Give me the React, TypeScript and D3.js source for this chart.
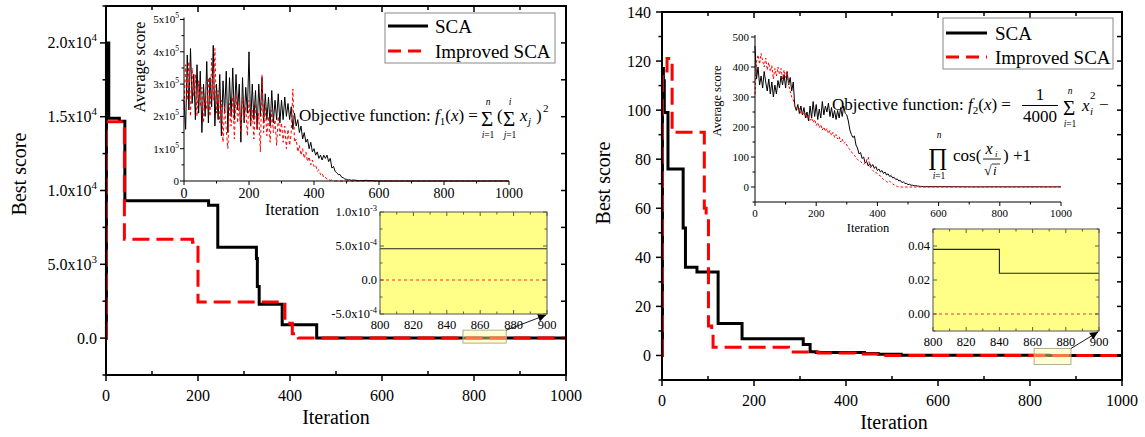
import React from "react";
import * as d3 from "d3";

type P = [number, number];
type Tick = { v: number; b: string; e: string };

// ---------------- data: left panel, f1 ----------------
const f1SCA: P[] = [[0, 0], [1, 20000], [6, 14900], [29, 14700], [41, 9300], [223, 9000], [243, 6150], [327, 5400], [329, 3500], [333, 2300], [383, 900], [458, 0.00046], [1000, 0.00046]];
const f1Improved: P[] = [[0, 0], [1, 14650], [40, 6700], [188, 6500], [200, 2450], [389, 1000], [405, 300], [418, 0], [1000, 0]];
const f1ZoomSCA: P[] = [[800, 0.00046], [900, 0.00046]];
const f1ZoomImproved: P[] = [[800, 0], [900, 0]];
const f1ZoomWindow = { x: [776, 870], y: [-340, 540] };

const AVG_STEP = 5;
// average score, unit 1e5, one value every AVG_STEP iterations from 0
const f1AvgSCA = [
  2.5, 1.6, 3.9, 2.2, 4.1, 2.4, 3.3, 1.9, 3.6, 2.1,
  3.4, 1.5, 3.0, 2.0, 3.7, 1.8, 3.2, 2.3, 4.2, 1.7,
  3.0, 1.9, 3.3, 1.4, 3.1, 2.1, 3.4, 1.5, 3.2, 2.0,
  3.5, 1.9, 3.3, 2.2, 3.0, 1.2, 3.2, 1.8, 2.9, 2.1,
  4.0, 1.7, 3.0, 1.9, 2.8, 1.6, 3.0, 2.0, 3.2, 1.8,
  2.7, 1.9, 2.6, 1.7, 2.8, 1.8, 2.5, 1.9, 2.7, 1.8,
  2.5, 1.9, 2.6, 2.0, 2.4, 1.9, 2.3, 1.6, 2.1, 1.7,
  1.9, 1.5, 1.7, 1.3, 1.5, 1.2, 1.3, 1.0, 1.2, 0.9,
  1.0, 0.8, 0.9, 0.7, 0.8, 0.65, 0.8, 0.7, 0.8, 0.6,
  0.7, 0.4, 0.45, 0.3, 0.25, 0.2, 0.2, 0.12, 0.1, 0.06,
  0.05, 0.03, 0.04, 0.02, 0.03,
];
const f1AvgSCATail: P[] = [[540, 0.01], [560, 0.02], [600, 0], [1000, 0]];
const f1AvgImproved = [
  2.2, 3.6, 2.5, 3.7, 2.0, 3.5, 2.6, 3.3, 2.0, 3.1,
  2.3, 2.9, 1.8, 2.6, 2.2, 3.2, 2.0, 3.8, 2.5, 4.1,
  2.1, 2.8, 1.8, 2.5, 1.2, 2.3, 1.6, 1.0, 2.4, 1.7,
  2.6, 1.3, 2.7, 1.8, 2.4, 1.5, 2.6, 1.9, 2.3, 1.4,
  2.5, 1.7, 2.2, 1.3, 2.4, 1.6, 2.1, 0.9, 3.3, 1.5,
  2.3, 1.4, 2.0, 1.2, 2.2, 1.5, 1.9, 1.1, 2.0, 1.4,
  1.8, 1.2, 1.7, 1.0, 1.6, 1.1, 1.5, 2.85, 1.2, 1.3,
  0.9, 1.1, 0.8, 1.0, 0.7, 0.9, 0.6, 0.75, 0.5, 0.65,
  0.45, 0.5, 0.3, 0.35, 0.2, 0.25, 0.1, 0.12, 0.05, 0.06,
  0.02, 0.03, 0.01, 0,
];
const f1AvgImprovedTail: P[] = [[1000, 0]];

const f1YTicks: Tick[] = [
  { v: 0, b: "0.0", e: "" }, { v: 5000, b: "5.0x10", e: "3" }, { v: 10000, b: "1.0x10", e: "4" },
  { v: 15000, b: "1.5x10", e: "4" }, { v: 20000, b: "2.0x10", e: "4" },
];
const f1AvgYTicks: Tick[] = [
  { v: 0, b: "0", e: "" }, { v: 1, b: "1x10", e: "5" }, { v: 2, b: "2x10", e: "5" },
  { v: 3, b: "3x10", e: "5" }, { v: 4, b: "4x10", e: "5" }, { v: 5, b: "5x10", e: "5" },
];
const f1ZoomYTicks: Tick[] = [
  { v: -0.0005, b: "-5.0x10", e: "-4" }, { v: 0, b: "0.0", e: "" },
  { v: 0.0005, b: "5.0x10", e: "-4" }, { v: 0.001, b: "1.0x10", e: "-3" },
];

// ---------------- data: right panel, f2 ----------------
const f2SCA: P[] = [[0, 0], [1, 100], [2, 117], [3, 104], [4, 112], [5, 99], [13, 76], [46, 52], [51, 36], [76, 34], [122, 13], [174, 6.8], [307, 4.5], [322, 1.5], [335, 1.2], [440, 0.8], [470, 0.5], [520, 0.038], [841, 0.024], [1000, 0.024]];
const f2Improved: P[] = [[0, 0], [1, 116], [11, 121], [22, 91], [92, 60], [96, 56], [101, 12], [108, 10], [111, 3.4], [275, 1.4], [340, 1.0], [420, 0.6], [480, 0], [1000, 0]];
const f2ZoomSCA: P[] = [[800, 0.038], [840, 0.024], [900, 0.024]];
const f2ZoomImproved: P[] = [[800, 0], [900, 0]];
const f2ZoomWindow = { x: [809, 889], y: [-3.7, 2.85] };

const f2AvgSCA = [
  470, 360, 400, 340, 370, 330, 385, 350, 320, 360,
  310, 350, 300, 340, 310, 355, 330, 370, 340, 375,
  330, 385, 340, 365, 320, 350, 270, 255, 275, 245,
  270, 240, 265, 230, 250, 220, 270, 230, 285, 235,
  275, 225, 260, 230, 285, 240, 270, 250, 280, 235,
  265, 230, 255, 225, 255, 230, 265, 235, 270, 245,
  240, 220, 190, 175, 165, 170, 140, 130, 110, 115,
  95, 100, 80, 85, 70, 78, 68, 75, 62, 68,
  55, 60, 50, 55, 45, 50, 40, 44, 35, 38,
  30, 32, 25, 27, 20, 22, 15, 17, 12, 12,
  8, 9, 6, 6, 4, 5, 3, 3, 2, 2, 1,
];
const f2AvgSCATail: P[] = [[600, 1], [700, 0.5], [1000, 0.5]];
const f2AvgImproved = [
  310, 420, 440, 410, 445, 420, 400, 430, 390, 415,
  385, 405, 360, 395, 370, 400, 375, 395, 360, 390,
  365, 385, 340, 320, 300, 290, 270, 265, 255, 262,
  245, 250, 238, 245, 230, 238, 222, 230, 215, 225,
  205, 215, 198, 208, 190, 200, 185, 195, 178, 188,
  172, 182, 165, 175, 160, 168, 150, 160, 145, 150,
  140, 130, 125, 118, 110, 105, 98, 92, 88, 85,
  80, 75, 80, 90, 100, 70, 60, 55, 50, 48,
  45, 40, 37, 30, 25, 22, 18, 15, 20, 14,
  10, 7, 4, 2, 0,
];
const f2AvgImprovedTail: P[] = [[1000, 0]];

const f2YTicks: Tick[] = [0, 20, 40, 60, 80, 100, 120, 140].map((v) => ({ v, b: String(v), e: "" }));
const f2AvgYTicks: Tick[] = [0, 100, 200, 300, 400, 500].map((v) => ({ v, b: String(v), e: "" }));
const f2ZoomYTicks: Tick[] = [
  { v: 0, b: "0.00", e: "" }, { v: 0.02, b: "0.02", e: "" }, { v: 0.04, b: "0.04", e: "" },
];

const iterTicks = [0, 200, 400, 600, 800, 1000];
const zoomXTicks = [800, 820, 840, 860, 880, 900];
const legendLabels = ["SCA", "Improved SCA"];

// ---------------- drawing ----------------
const FONT = "Liberation Serif, Times New Roman, serif";
const RED = "#ff0000";

type Sc = d3.ScaleLinear<number, number>;

function stepPath(xs: Sc, ys: Sc, pts: P[]) {
  return d3.line<P>().x((d) => xs(d[0])).y((d) => ys(d[1])).curve(d3.curveStepAfter)(pts) || "";
}
function linPath(xs: Sc, ys: Sc, pts: P[]) {
  return d3.line<P>().x((d) => xs(d[0])).y((d) => ys(d[1]))(pts) || "";
}
function avgPoints(vals: number[], tail: P[]): P[] {
  return vals.map((v, i) => [i * AVG_STEP, v] as P).concat(tail);
}

function Label({ x, y, t, size, anchor = "end", supSize, supDy }: any) {
  return (
    <text x={x} y={y} textAnchor={anchor} fontSize={size}>
      {t.b}
      {t.e ? <tspan dy={supDy} fontSize={supSize}>{t.e}</tspan> : null}
    </text>
  );
}

function MainFrame({ xs, ys, xMinorStep, yTicks, yMinorStep, yLabelX, xLabelY }: any) {
  const [x0, x1] = xs.range();
  const [yb, yt] = ys.range();
  const [d0, d1] = ys.domain();
  const xAll = d3.range(0, 1001, xMinorStep);
  const yAll = d3.range(Math.ceil(d0 / yMinorStep) * yMinorStep, d1 + 1e-9, yMinorStep);
  const majorY = new Set(yTicks.map((t: Tick) => t.v));
  return (
    <g>
      <g stroke="#000" strokeWidth={1.5}>
        {xAll.map((v) => {
          const major = v % 200 === 0;
          return (
            <g key={v}>
              <line x1={xs(v)} x2={xs(v)} y1={yb} y2={major ? yb + 6 : yb - 4} />
              <line x1={xs(v)} x2={xs(v)} y1={yt} y2={yt + (major ? 6 : 4)} />
            </g>
          );
        })}
        {yAll.map((v) => {
          const major = majorY.has(v);
          return (
            <g key={v}>
              <line x1={x0} x2={x0 - (major ? 6 : 3.5)} y1={ys(v)} y2={ys(v)} />
              <line x1={x1} x2={x1 - 5} y1={ys(v)} y2={ys(v)} />
            </g>
          );
        })}
      </g>
      <rect x={x0} y={yt} width={x1 - x0} height={yb - yt} fill="none" stroke="#000" strokeWidth={2} />
      {iterTicks.map((v) => (
        <text key={v} x={xs(v)} y={xLabelY} textAnchor="middle" fontSize={16}>{v}</text>
      ))}
      {yTicks.map((t: Tick) => (
        <Label key={t.v} x={yLabelX} y={ys(t.v) + 5.5} t={t} size={16} supSize={11} supDy={-7} />
      ))}
    </g>
  );
}

function AvgInset({ xs, ys, yTicks, yMinorStep, blackPts, redPts, redDash, yLabelSize, yLabelSup, xLabelSize, xLabelY, yLabelX }: any) {
  const [x0, x1] = xs.range();
  const [yb] = ys.range();
  const [d0] = ys.domain();
  const top = ys(yTicks[yTicks.length - 1].v) - 2;
  const yAll = d3.range(Math.ceil(d0 / yMinorStep) * yMinorStep, yTicks[yTicks.length - 1].v + 1e-9, yMinorStep);
  const majorY = new Set(yTicks.map((t: Tick) => t.v));
  return (
    <g>
      <path d={linPath(xs, ys, blackPts)} fill="none" stroke="#000" strokeWidth={1} />
      <path d={linPath(xs, ys, redPts)} fill="none" stroke={RED} strokeWidth={1} strokeDasharray={redDash} />
      <g stroke="#000" strokeWidth={1}>
        <line x1={x0} x2={x0} y1={yb} y2={top} />
        <line x1={x0} x2={x1} y1={yb} y2={yb} />
        {d3.range(0, 1001, 100).map((v) => (
          <line key={v} x1={xs(v)} x2={xs(v)} y1={yb} y2={yb + (v % 200 === 0 ? 4 : 2.5)} />
        ))}
        {yAll.map((v) => (
          <line key={v} x1={x0} x2={x0 - (majorY.has(v) ? 4 : 2.5)} y1={ys(v)} y2={ys(v)} />
        ))}
      </g>
      {iterTicks.map((v) => (
        <text key={v} x={xs(v)} y={xLabelY} textAnchor="middle" fontSize={xLabelSize}>{v}</text>
      ))}
      {yTicks.map((t: Tick) => (
        <Label key={t.v} x={yLabelX} y={ys(t.v) + yLabelSize * 0.35} t={t} size={yLabelSize} supSize={yLabelSup} supDy={-5} />
      ))}
    </g>
  );
}

function ZoomInset({ xs, ys, yTicks, yMinor, blackPts, redPts, yLabelX, xLabelY, win, mxs, mys }: any) {
  const [x0, x1] = xs.range();
  const [yb, yt] = ys.range();
  const majorY = new Set(yTicks.map((t: Tick) => t.v));
  const rx0 = mxs(win.x[0]), rx1 = mxs(win.x[1]);
  const ry0 = mys(win.y[1]), ry1 = mys(win.y[0]);
  return (
    <g>
      <rect x={rx0} y={ry0} width={rx1 - rx0} height={ry1 - ry0} fill="#ffff99" fillOpacity={0.45} stroke="#b0b090" strokeWidth={1} />
      <line x1={rx1} y1={ry0} x2={x1 - 1} y2={yb + 1} stroke="#000" strokeWidth={0.9} markerEnd="url(#ah)" />
      <rect x={x0} y={yt} width={x1 - x0} height={yb - yt} fill="#ffff88" />
      <path d={stepPath(xs, ys, blackPts)} fill="none" stroke="#222" strokeWidth={1.1} />
      <path d={stepPath(xs, ys, redPts)} fill="none" stroke="#ff3030" strokeWidth={1.1} strokeDasharray="3 3" />
      <g stroke="#333" strokeWidth={0.8}>
        {d3.range(800, 901, 10).map((v) => (
          <g key={v}>
            <line x1={xs(v)} x2={xs(v)} y1={yb} y2={yb - (v % 20 === 0 ? 4 : 2.5)} />
            <line x1={xs(v)} x2={xs(v)} y1={yt} y2={yt + (v % 20 === 0 ? 4 : 2.5)} />
          </g>
        ))}
        {yMinor.map((v: number) => (
          <g key={v}>
            <line x1={x0} x2={x0 + (majorY.has(v) ? 4 : 2.5)} y1={ys(v)} y2={ys(v)} />
            <line x1={x1} x2={x1 - (majorY.has(v) ? 4 : 2.5)} y1={ys(v)} y2={ys(v)} />
          </g>
        ))}
      </g>
      <rect x={x0} y={yt} width={x1 - x0} height={yb - yt} fill="none" stroke="#555" strokeWidth={1} />
      {zoomXTicks.map((v) => (
        <text key={v} x={xs(v)} y={xLabelY} textAnchor="middle" fontSize={12.5}>{v}</text>
      ))}
      {yTicks.map((t: Tick) => (
        <Label key={t.v} x={yLabelX} y={ys(t.v) + 4.3} t={t} size={12.5} supSize={8.5} supDy={-5} />
      ))}
    </g>
  );
}

function Legend({ x, y, w, h, lx0, lx1, tx, rows }: any) {
  return (
    <g>
      <rect x={x} y={y} width={w} height={h} fill="#fff" stroke="#888" strokeWidth={1} />
      <line x1={lx0} x2={lx1} y1={rows[0]} y2={rows[0]} stroke="#000" strokeWidth={3} />
      <line x1={lx0} x2={lx1} y1={rows[1]} y2={rows[1]} stroke={RED} strokeWidth={3} strokeDasharray="13 7" />
      <text x={tx} y={rows[0] + 7} fontSize={19}>{legendLabels[0]}</text>
      <text x={tx} y={rows[1] + 7} fontSize={19}>{legendLabels[1]}</text>
    </g>
  );
}

function Sigma({ x, y, top, bottom, cx }: any) {
  // big operator with limits above and below
  return (
    <g>
      <text x={x} y={y} fontSize={21}>Σ</text>
      <text x={cx} y={y - 21} fontSize={9.5} fontStyle="italic" textAnchor="middle">{top}</text>
      <text x={cx} y={y + 12} fontSize={9.5} textAnchor="middle">
        <tspan fontStyle="italic">{bottom}</tspan>=1
      </text>
    </g>
  );
}

export default function App() {
  // left panel scales
  const lx = d3.scaleLinear().domain([0, 1000]).range([106, 566]);
  const ly = d3.scaleLinear().domain([-2500, 22500]).range([375, 6]);
  const lax = d3.scaleLinear().domain([0, 1000]).range([184, 509]);
  const lay = d3.scaleLinear().domain([0, 5]).range([181, 19.5]);
  const lzx = d3.scaleLinear().domain([800, 900]).range([380, 547]);
  const lzy = d3.scaleLinear().domain([-0.0005, 0.001]).range([314, 212]);
  // right panel scales
  const rx = d3.scaleLinear().domain([0, 1000]).range([662, 1122]);
  const ry = d3.scaleLinear().domain([-10, 140]).range([380, 12]);
  const rax = d3.scaleLinear().domain([0, 1000]).range([755, 1061]);
  const ray = d3.scaleLinear().domain([-50, 550]).range([202, 22]);
  const rzx = d3.scaleLinear().domain([800, 900]).range([933, 1099]);
  const rzy = d3.scaleLinear().domain([-0.01, 0.05]).range([331, 229]);

  const mainDash = "17 7";

  return (
    <svg width={1145} height={437} style={{ position: "absolute", left: 0, top: 0, fontFamily: FONT }} fontFamily={FONT}>
      <defs>
        <marker id="ah" viewBox="0 0 10 10" refX="10" refY="5" markerUnits="userSpaceOnUse" markerWidth="10" markerHeight="8" orient="auto">
          <path d="M0,0 L10,5 L0,10 z" fill="#000" />
        </marker>
      </defs>
      <rect width={1145} height={437} fill="#fff" />

      {/* ---------- LEFT PANEL ---------- */}
      <g>
        <path d={stepPath(lx, ly, f1SCA)} fill="none" stroke="#000" strokeWidth={3} />
        <path d={stepPath(lx, ly, f1Improved)} fill="none" stroke={RED} strokeWidth={3} strokeDasharray={mainDash} />
        <MainFrame xs={lx} ys={ly} xMinorStep={100} yTicks={f1YTicks} yMinorStep={2500} yLabelX={97} xLabelY={401} />
        <text transform="translate(19,174) rotate(-90)" textAnchor="middle" dy="0.35em" fontSize={20}>Best score</text>
        <text x={336} y={424} textAnchor="middle" fontSize={20}>Iteration</text>

        <AvgInset xs={lax} ys={lay} yTicks={f1AvgYTicks} yMinorStep={0.5}
          blackPts={avgPoints(f1AvgSCA, f1AvgSCATail)} redPts={avgPoints(f1AvgImproved, f1AvgImprovedTail)}
          redDash="3 2.5" yLabelSize={11} yLabelSup={7.5} xLabelSize={14} xLabelY={198} yLabelX={179} />
        <text transform="translate(139,67) rotate(-90)" textAnchor="middle" dy="0.35em" fontSize={16}>Average score</text>
        <text x={292} y={215} textAnchor="middle" fontSize={16}>Iteration</text>

        <text x={299} y={121} fontSize={17}>
          Objective function: <tspan fontStyle="italic">f</tspan>
          <tspan dy={4} fontSize={11}>1</tspan>
          <tspan dy={-4}>(</tspan><tspan fontStyle="italic">x</tspan>) =
        </text>
        <Sigma x={481} y={126} cx={488} top="n" bottom="i" />
        <text x={497} y={121} fontSize={17}>(</text>
        <Sigma x={503} y={126} cx={510} top="i" bottom="j" />
        <text x={520} y={121} fontSize={17} fontStyle="italic">x</text>
        <text x={528} y={125} fontSize={11} fontStyle="italic">j</text>
        <text x={536} y={121} fontSize={17}>)</text>
        <text x={543} y={112} fontSize={11}>2</text>

        <Legend x={385} y={13} w={170} h={50} lx0={388} lx1={428} tx={435} rows={[26, 51]} />

        <ZoomInset xs={lzx} ys={lzy} yTicks={f1ZoomYTicks} yMinor={[-0.0005, -0.00025, 0, 0.00025, 0.0005, 0.00075, 0.001]}
          blackPts={f1ZoomSCA} redPts={f1ZoomImproved} yLabelX={377} xLabelY={329} win={f1ZoomWindow} mxs={lx} mys={ly} />
      </g>

      {/* ---------- RIGHT PANEL ---------- */}
      <g>
        <path d={stepPath(rx, ry, f2SCA)} fill="none" stroke="#000" strokeWidth={3} />
        <path d={stepPath(rx, ry, f2Improved)} fill="none" stroke={RED} strokeWidth={3} strokeDasharray={mainDash} />
        <MainFrame xs={rx} ys={ry} xMinorStep={100} yTicks={f2YTicks} yMinorStep={10} yLabelX={651} xLabelY={406} />
        <text transform="translate(603,183) rotate(-90)" textAnchor="middle" dy="0.35em" fontSize={20}>Best score</text>
        <text x={894} y={429} textAnchor="middle" fontSize={20}>Iteration</text>

        <AvgInset xs={rax} ys={ray} yTicks={f2AvgYTicks} yMinorStep={50}
          blackPts={avgPoints(f2AvgSCA, f2AvgSCATail)} redPts={avgPoints(f2AvgImproved, f2AvgImprovedTail)}
          redDash="2.5 2" yLabelSize={11} yLabelSup={8} xLabelSize={11} xLabelY={217} yLabelX={749} />
        <text transform="translate(717,101) rotate(-90)" textAnchor="middle" dy="0.35em" fontSize={12.5}>Average score</text>
        <text x={868} y={232} textAnchor="middle" fontSize={12.5}>Iteration</text>

        <text x={832} y={110} fontSize={17}>
          Objective function: <tspan fontStyle="italic">f</tspan>
          <tspan dy={4} fontSize={11}>2</tspan>
          <tspan dy={-4}>(</tspan><tspan fontStyle="italic">x</tspan>) =
        </text>
        <text x={1040} y={100} fontSize={17} textAnchor="middle">1</text>
        <line x1={1022} x2={1058} y1={105.5} y2={105.5} stroke="#000" strokeWidth={1} />
        <text x={1040} y={122} fontSize={17} textAnchor="middle">4000</text>
        <Sigma x={1063} y={115} cx={1070} top="n" bottom="i" />
        <text x={1082} y={111} fontSize={17} fontStyle="italic">x</text>
        <text x={1090} y={99} fontSize={11}>2</text>
        <text x={1090} y={115} fontSize={11} fontStyle="italic">i</text>
        <text x={1099} y={110} fontSize={17}>−</text>

        <text x={928} y={165} fontSize={24}>∏</text>
        <text x={939} y={138} fontSize={9.5} fontStyle="italic" textAnchor="middle">n</text>
        <text x={939} y={179} fontSize={9.5} textAnchor="middle"><tspan fontStyle="italic">i</tspan>=1</text>
        <text x={953} y={161} fontSize={17}>cos(</text>
        <text x={989} y={154} fontSize={16} fontStyle="italic" textAnchor="middle">x</text>
        <text x={995} y={157} fontSize={9} fontStyle="italic">i</text>
        <line x1={983} x2={1001} y1={159} y2={159} stroke="#000" strokeWidth={0.9} />
        <text x={984} y={175} fontSize={14}>√</text>
        <line x1={992} x2={1000} y1={164} y2={164} stroke="#000" strokeWidth={0.8} />
        <text x={993} y={175} fontSize={13} fontStyle="italic">i</text>
        <text x={1003} y={161} fontSize={17}>) +1</text>

        <Legend x={943} y={18} w={170} h={51} lx0={946} lx1={987} tx={995} rows={[33, 57]} />

        <ZoomInset xs={rzx} ys={rzy} yTicks={f2ZoomYTicks} yMinor={[-0.01, 0, 0.01, 0.02, 0.03, 0.04, 0.05]}
          blackPts={f2ZoomSCA} redPts={f2ZoomImproved} yLabelX={930} xLabelY={346} win={f2ZoomWindow} mxs={rx} mys={ry} />
      </g>
    </svg>
  );
}
